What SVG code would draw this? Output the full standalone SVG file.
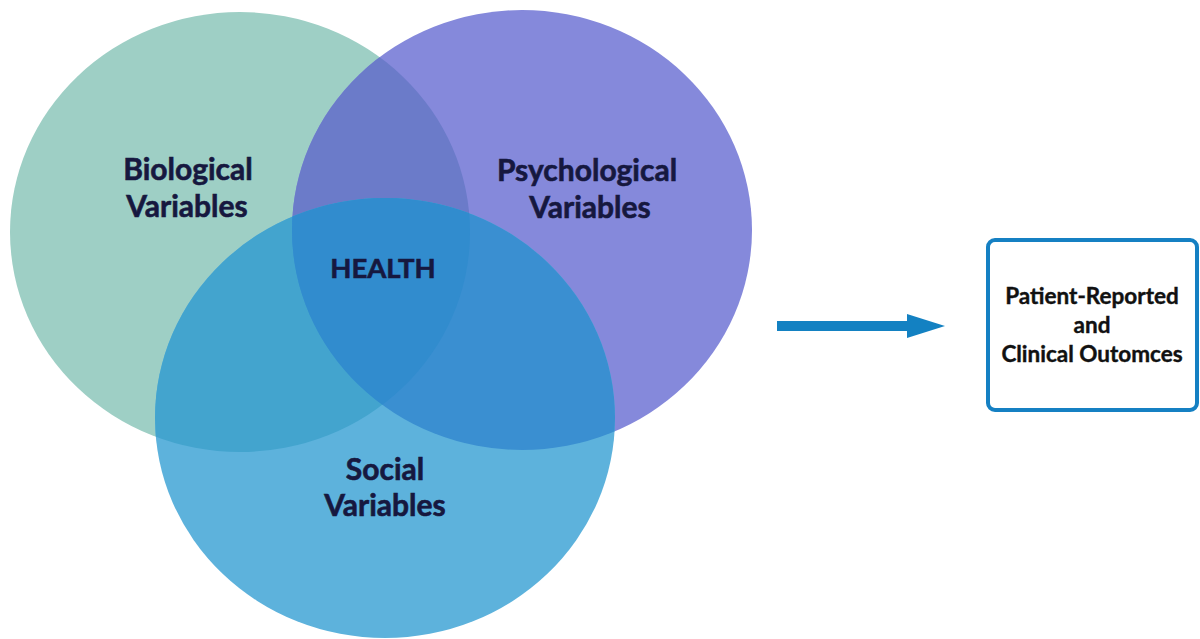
<svg xmlns="http://www.w3.org/2000/svg" width="1200" height="639" viewBox="0 0 1200 639">
  <style>
    .lbl { font-family: "Lato", "Noto Sans", "Liberation Sans", sans-serif; font-weight: bold; font-size: 30px; fill: #16183f; stroke: #16183f; stroke-width: 0.6px; text-anchor: middle; }
    .hl { font-size: 27.5px; }
    .out { font-family: "Lato", "Noto Sans", "Liberation Sans", sans-serif; font-weight: bold; font-size: 22.5px; fill: #111111; stroke: #111111; stroke-width: 0.4px; text-anchor: middle; }
  </style>
  <defs>
    <ellipse id="shapeBio" cx="240" cy="232" rx="230" ry="220"/>
    <ellipse id="shapePsy" cx="522" cy="230" rx="230" ry="220"/>
    <ellipse id="shapeSoc" cx="385" cy="418" rx="230" ry="220"/>
    <clipPath id="clipBio"><use href="#shapeBio"/></clipPath>
    <clipPath id="clipPsy"><use href="#shapePsy"/></clipPath>
    <marker id="arrowHead" viewBox="0 0 10 10" refX="0" refY="5" markerWidth="3.8" markerHeight="2.4" markerUnits="strokeWidth" orient="auto" preserveAspectRatio="none">
      <path d="M0,0 L10,5 L0,10 Z" fill="#1381c2"/>
    </marker>
  </defs>

  <rect width="1200" height="639" fill="#ffffff"/>

  <!-- Venn circles, with each overlap region painted in its own blended tone -->
  <g id="venn">
    <use href="#shapeBio" fill="#9ecfc5"/>
    <use href="#shapePsy" fill="#8589db"/>
    <g clip-path="url(#clipBio)"><use href="#shapePsy" fill="#6b7bc9"/></g>
    <use href="#shapeSoc" fill="#5db2dc"/>
    <g clip-path="url(#clipBio)"><use href="#shapeSoc" fill="#43a4ce"/></g>
    <g clip-path="url(#clipPsy)"><use href="#shapeSoc" fill="#3a8fd1"/></g>
    <g clip-path="url(#clipBio)"><g clip-path="url(#clipPsy)"><use href="#shapeSoc" fill="#318cce"/></g></g>
  </g>

  <g id="node-biological">
    <text class="lbl" x="188" y="180">Biological</text>
    <text class="lbl" x="187" y="217">Variables</text>
  </g>
  <g id="node-psychological">
    <text class="lbl" x="587" y="181">Psychological</text>
    <text class="lbl" x="590" y="218">Variables</text>
  </g>
  <g id="node-health">
    <text class="lbl hl" x="383" y="278">HEALTH</text>
  </g>
  <g id="node-social">
    <text class="lbl" x="385" y="480">Social</text>
    <text class="lbl" x="385" y="516">Variables</text>
  </g>

  <!-- connectors -->
  <g id="connectors">
    <line x1="777" y1="326" x2="907" y2="326" stroke="#1381c2" stroke-width="10" marker-end="url(#arrowHead)"/>
  </g>

  <g id="node-outcomes">
    <rect x="988" y="240" width="209" height="170" rx="7" fill="#ffffff" stroke="#1580c3" stroke-width="4"/>
    <text class="out" x="1092" y="304">Patient-Reported</text>
    <text class="out" x="1092" y="333">and</text>
    <text class="out" x="1092" y="362">Clinical Outomces</text>
  </g>
</svg>
